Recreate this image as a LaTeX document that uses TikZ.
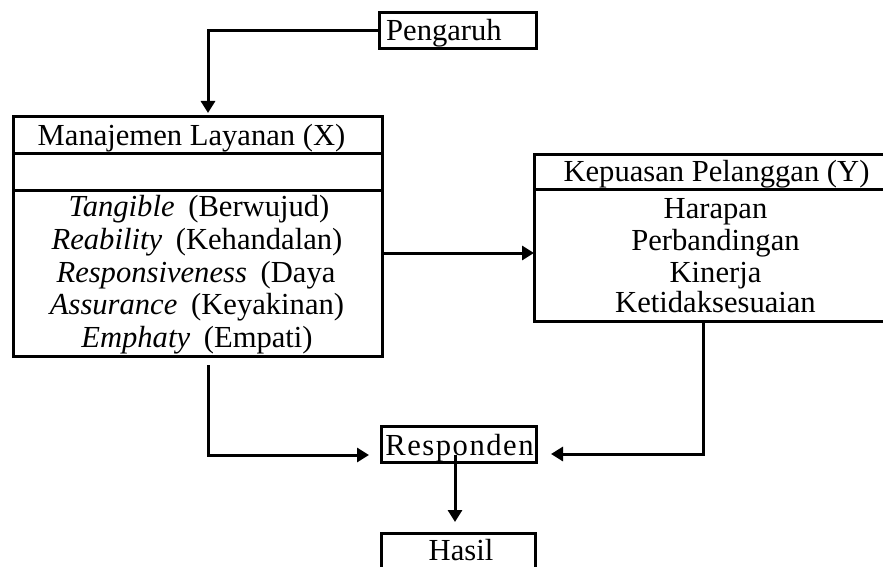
\documentclass[tikz,border=0pt]{standalone}
\usepackage{fontspec}
\setmainfont{Liberation Serif}
\usetikzlibrary{arrows.meta,calc}
\begin{document}
\begin{tikzpicture}[x=1pt,y=-1pt,
  box/.style={draw,line width=3pt,rectangle,inner sep=0pt,outer sep=0pt},
  txt/.style={inner sep=0pt,anchor=base,font=\fontsize{30.6}{33}\selectfont},
  arr/.style={line width=3pt,-{Triangle[length=12pt,width=14pt]}},
  sep/.style={line width=3pt}]
\useasboundingbox (0,0) rectangle (883,567);
\clip (0,0) rectangle (883,567);
\fill[white] (0,0) rectangle (883,567);
% boxes
\node[box,minimum width=157pt,minimum height=36pt] (pg) at (457.5,31) {};
\node[box,minimum width=369pt,minimum height=239pt] (mx) at (197.5,236.5) {};
\node[box,minimum width=364pt,minimum height=167pt] (ky) at (716,237.5) {};
\node[box,minimum width=155pt,minimum height=36pt] (rs) at (458.5,444) {};
\node[box,minimum width=154pt,minimum height=60pt] (hs) at (458.5,563) {};
% separators
\draw[sep] ([yshift=-36pt]mx.north west) -- ([yshift=-36pt]mx.north east);
\draw[sep] ([yshift=-73pt]mx.north west) -- ([yshift=-73pt]mx.north east);
\draw[sep] ([yshift=-35pt]ky.north west) -- ([yshift=-35pt]ky.north east);
% texts
\node[txt,anchor=base west] (tpg) at (386,41) {Pengaruh};
\node[txt] (tmx) at (191.5,146) {Manajemen Layanan (X)};
\node[txt] (t1) at (199,216) {\textit{Tangible}\hspace{0.45em}(Berwujud)};
\node[txt] (t2) at (197,249) {\textit{Reability}\hspace{0.45em}(Kehandalan)};
\node[txt] (t3) at (196,282) {\textit{Responsiveness}\hspace{0.45em}(Daya};
\node[txt] (t4) at (197,314) {\textit{Assurance}\hspace{0.45em}(Keyakinan)};
\node[txt] (t5) at (197,347) {\textit{Emphaty}\hspace{0.45em}(Empati)};
\node[txt] (tky) at (716.5,181) {Kepuasan Pelanggan (Y)};
\node[txt] (k1) at (715.5,218) {Harapan};
\node[txt] (k2) at (715.5,250) {Perbandingan};
\node[txt] (k3) at (715.5,282) {Kinerja};
\node[txt] (k4) at (715.5,312) {Ketidaksesuaian};
\node[txt] (trs) at (459.5,455) {\addfontfeature{LetterSpace=5}Responden};
\node[txt] (ths) at (461,560) {Hasil};
% connectors
\draw[arr,shorten >=4pt] (pg.west) -| ([xshift=10.5pt]mx.north);
\coordinate (a1) at ([yshift=-16.5pt]mx.east);
\draw[arr] (a1) -- (a1 -| ky.west);
\coordinate (b1) at ([xshift=10.5pt,yshift=-9pt]mx.south);
\draw[arr,shorten >=12pt] (b1) |- ([yshift=-11pt]rs.west);
\draw[arr,shorten >=15pt] ([xshift=-13pt]ky.south) |- ([yshift=-10pt]rs.east);
\draw[arr,shorten >=11pt] ([xshift=-3.5pt,yshift=-11pt]rs.center) -- ([xshift=-3.5pt]hs.north);
\end{tikzpicture}
\end{document}
